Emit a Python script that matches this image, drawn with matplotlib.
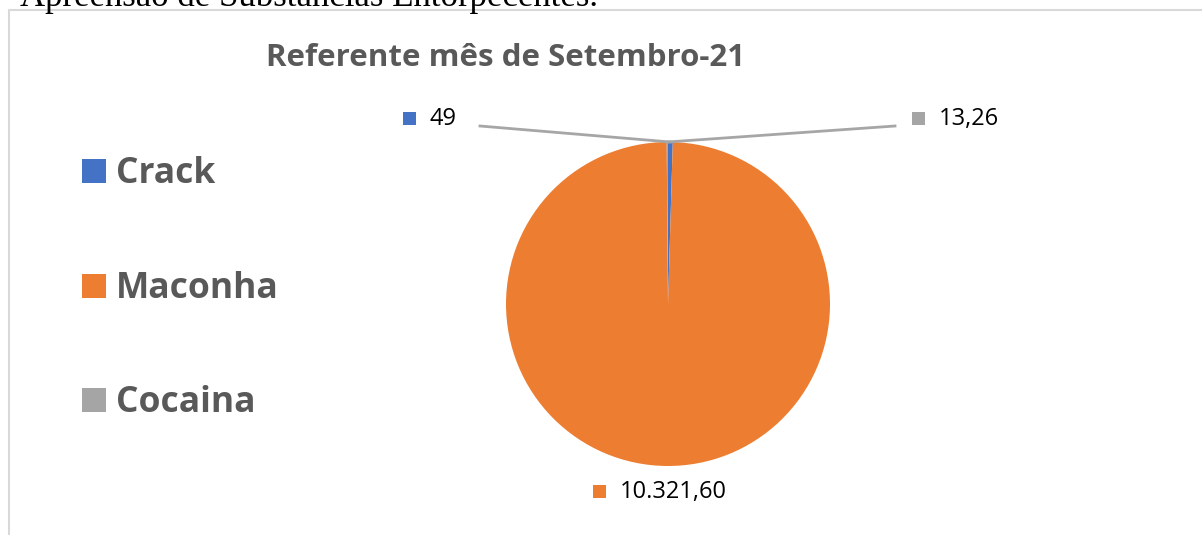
import matplotlib
matplotlib.use("Agg")
import matplotlib.pyplot as plt
import numpy as np

categories = ["Crack", "Maconha", "Cocaina"]
values = [49, 10321.60, 13.26]
value_labels = ["49", "10.321,60", "13,26"]
colors = ["#4472C4", "#ED7D31", "#A5A5A5"]
title = "Referente mês de Setembro-21"
header = "Apreensão de Substâncias Entorpecentes."

W, H = 1202, 535
fig = plt.figure(figsize=(W / 100, H / 100), dpi=100)
ax = fig.add_axes([0, 0, 1, 1])

cx, cy, r = 668, H - 304, 162
wedges, _ = ax.pie(values, colors=colors, startangle=90, counterclock=False,
                   center=(cx, cy), radius=r,
                   wedgeprops=dict(linewidth=0))
ax.set_xlim(0, W)
ax.set_ylim(0, H)
ax.set_aspect("auto")
ax.axis("off")

TXT = "#595959"
font = "Open Sans"

# border of chart area
ax.plot([9, 9, W + 5], [-5, H - 9.5, H - 9.5], color="#D9D9D9", lw=1.5,
        solid_capstyle="butt", clip_on=False)

# header (cut off at top, as in the source)
ax.text(20, H - 6, header, family="Liberation Serif", fontsize=25,
        color="black", ha="left", va="baseline")

ax.text(505, H - 58, title, family=font, fontweight="bold", fontsize=22.5,
        color=TXT, ha="center", va="center")

# legend
leg_y = [171, 286, 400]
for cat, col, y in zip(categories, colors, leg_y):
    ax.add_patch(plt.Rectangle((82, H - y - 12), 24, 24, color=col, lw=0))
    ax.text(116, H - y - 3, cat, family=font, fontweight="bold", fontsize=25.5,
            color=TXT, ha="left", va="center")

# data labels
label_pos = [(430, 118), (620, 491), (939, 118)]
line_end = [(480, 126), None, (895, 126)]
for i, (w, lab, col) in enumerate(zip(wedges, value_labels, colors)):
    lx, ly = label_pos[i]
    ang = np.deg2rad((w.theta1 + w.theta2) / 2)
    ax_ = cx + r * np.cos(ang)
    ay_ = cy + r * np.sin(ang)
    if line_end[i] is not None:
        ex, ey = line_end[i]
        ax.plot([ax_, ex], [ay_, H - ey], color="#A6A6A6", lw=2, zorder=3)
    ax.add_patch(plt.Rectangle((lx - 27, H - ly - 6.5), 13, 13, color=col, lw=0))
    ax.text(lx, H - ly - 1, lab, family=font, fontsize=17, color="black",
            ha="left", va="center")

fig.savefig("out.png", dpi=100)
